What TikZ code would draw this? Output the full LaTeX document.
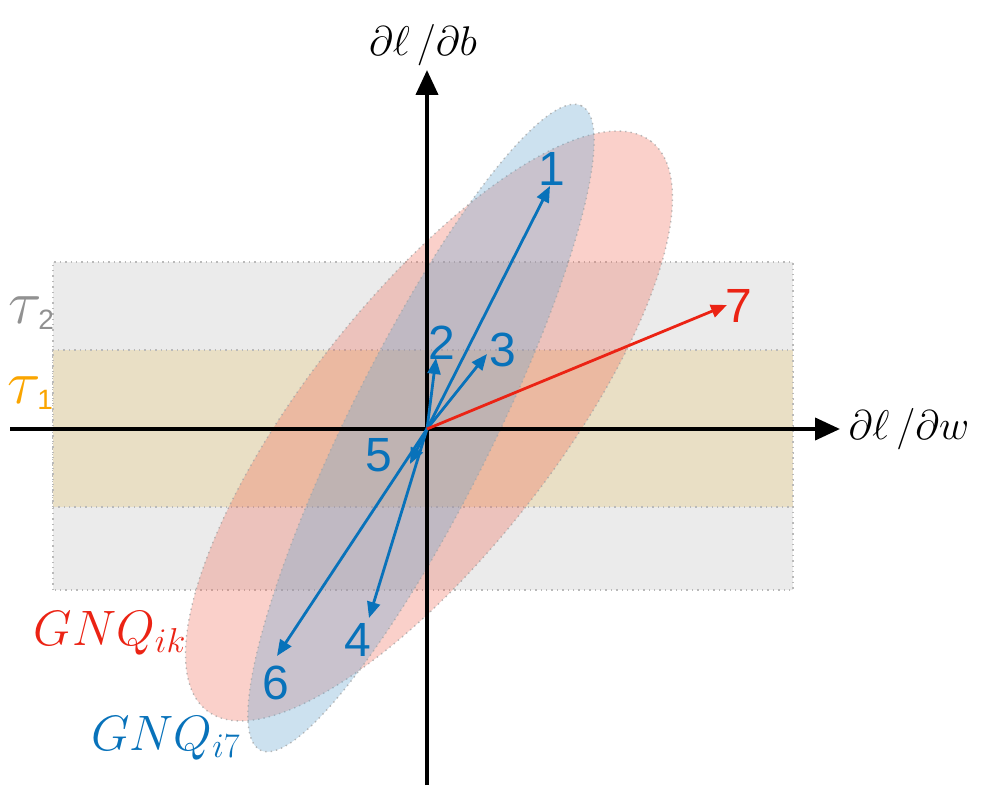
\documentclass[tikz,border=0pt]{standalone}
\usepackage{graphicx}
\usepackage{fontspec}
\setsansfont{Liberation Sans}
\usetikzlibrary{arrows.meta}
\definecolor{gnqblue}{RGB}{8,114,186}
\definecolor{gnqred}{RGB}{235,35,20}
\definecolor{tauorange}{RGB}{250,165,0}
\definecolor{taugray}{RGB}{145,145,145}
\definecolor{bandgray}{RGB}{235,235,235}
\definecolor{bandtan}{RGB}{233,223,197}
\definecolor{redfill}{RGB}{240,100,80}
\definecolor{bluefill}{RGB}{110,170,210}
\newcommand{\tausub}[1]{\scalebox{1.25}{$\tau$}\kern-1.5pt\raisebox{-3pt}{\sffamily\fontsize{14}{16}\selectfont #1}}

\begin{document}
\begin{tikzpicture}[x=0.5pt,y=0.5pt,
    band/.style={draw=gray!55,dotted,line width=0.7pt},
    blob/.style={draw=gray!70,draw opacity=0.8,dotted,line width=0.7pt},
    axis/.style={line width=2pt,-{Triangle[length=12.5pt,width=11pt]}},
    vec/.style={gnqblue,line width=1.4pt,-{Triangle[length=8pt,width=6.5pt]}},
    num/.style={font=\fontsize{24}{28}\selectfont\sffamily},
    tau/.style={font=\fontsize{24}{28}\selectfont,inner sep=0pt}]
	%%Location
	\useasboundingbox (0,0) rectangle (998,800);
	%%bands
	\draw[band,fill=bandgray] (53,210) rectangle (793,538);
	\draw[band,fill=bandtan] (53,293) rectangle (793,450);
	\node[tau,taugray] (tau2) at (31,487) {\tausub{2}};
	\node[tau,tauorange] (tau1) at (30,407) {\tausub{1}};
	%%ellipses
	\draw[blob,fill=redfill,fill opacity=0.3] (429,374) ellipse [x radius=361, y radius=126, rotate=52];
	\draw[blob,fill=bluefill,fill opacity=0.35] (421,372) ellipse [x radius=360, y radius=72, rotate=63.5];
	\node[gnqred,font=\fontsize{23}{27}\selectfont] (gnqik) at (110,167) {$GNQ_{ik}$};
	\node[gnqblue,font=\fontsize{23}{27}\selectfont] (gnqi7) at (166,62) {$GNQ_{i7}$};
	%%axis
	\coordinate (O) at (427,371);
	\coordinate (xmin) at (10,371);
	\coordinate (xmax) at (840,371);
	\coordinate (ymin) at (427,15);
	\coordinate (ymax) at (427,730);
	\draw[axis] (xmin) -- (xmax);
	\draw[axis] (ymin) -- (ymax);
	\node[font=\fontsize{22}{26}\selectfont] (dw) at (909,371) {$\partial\ell\,/\partial w$};
	\node[font=\fontsize{22}{26}\selectfont] (db) at (423,755) {$\partial\ell\,/\partial b$};
	%%vectors
	\coordinate (t1) at (550,614);
	\coordinate (t2) at (436,442);
	\coordinate (t3) at (487,446);
	\coordinate (t4) at (369,182);
	\coordinate (t5) at (410,336);
	\coordinate (t6) at (277,144);
	\coordinate (t7) at (727,495);
	\draw[vec] (O) -- (t1);
	\draw[vec] (O) -- (t2);
	\draw[vec] (O) -- (t3);
	\draw[vec] (O) -- (t4);
	\draw[vec] (O) -- (t5);
	\draw[vec] (O) -- (t6);
	\draw[vec,gnqred] (O) -- (t7);
	%%Label
	\node[num,gnqblue] (n1) at (552,631) {1};
	\node[num,gnqblue] (n2) at (442,457) {2};
	\node[num,gnqblue] (n3) at (503,450) {3};
	\node[num,gnqblue] (n4) at (358,160) {4};
	\node[num,gnqblue] (n5) at (379,345) {5};
	\node[num,gnqblue] (n6) at (276,117) {6};
	\node[num,gnqred] (n7) at (739,494) {7};
\end{tikzpicture}
\end{document}
